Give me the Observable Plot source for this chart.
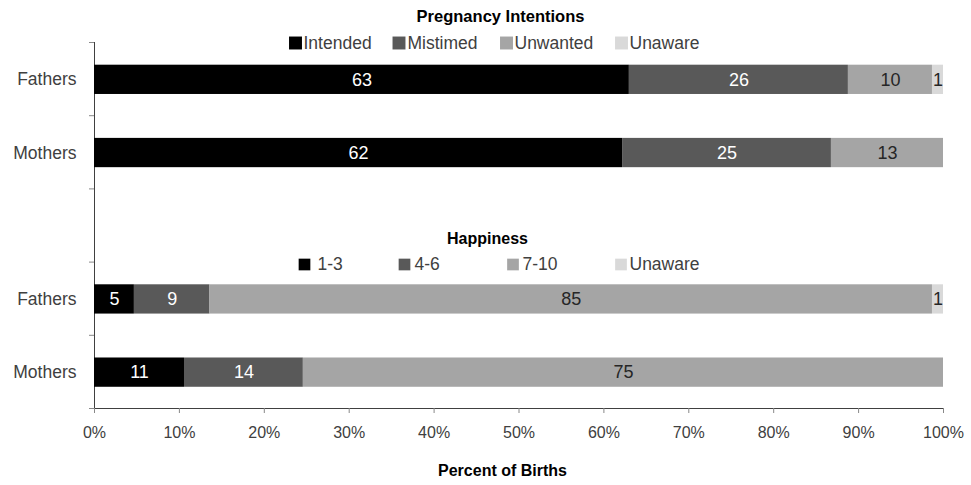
<!DOCTYPE html>
<html><head><meta charset="utf-8">
<script src="https://cdn.jsdelivr.net/npm/d3@7"></script>
<script src="https://cdn.jsdelivr.net/npm/@observablehq/plot@0.6"></script>
<style>
html,body{margin:0;padding:0;background:#fff;}
#chart svg{display:block;}
#chart g[aria-label^="x-axis"] line, #chart g[aria-label^="x-axis"] path,
#chart g[aria-label^="y-axis"] line, #chart g[aria-label^="y-axis"] path{stroke:#888888;}
</style></head><body><div id="chart"></div>
<script>
// ---- data ----
const rowNames = ["Fathers", "Mothers"];
const intentionKeys = ["Intended", "Mistimed", "Unwanted", "Unaware"];
const happinessKeys = ["1-3", "4-6", "7-10", "Unaware"];
const intentionFathers = [63.0, 25.8, 9.9, 1.3];
const intentionMothers = [62.2, 24.6, 13.2, 0];
const happinessFathers = [4.7, 8.9, 85.1, 1.3];
const happinessMothers = [10.6, 14.0, 75.4, 0];
const xTicks = [0, 10, 20, 30, 40, 50, 60, 70, 80, 90, 100];
const intentionTitle = "Pregnancy Intentions";
const happinessTitle = "Happiness";
const xTitle = "Percent of Births";

// ---- styling / layout ----
const fills = ["#000000", "#595959", "#a5a5a5", "#d9d9d9"];
const labelFills = ["#ffffff", "#ffffff", "#262626", "#262626"];
const W = 971, H = 485, mL = 94, mR = 28, mT = 42, mB = 77;
const pxToX = px => (px - mL) / (W - mL - mR) * 100;
const pxToY = py => (py - mT) / ((H - mT - mB) / 5);

const rows = [
  {slot: 0, name: rowNames[0], vals: intentionFathers},
  {slot: 1, name: rowNames[1], vals: intentionMothers},
  {slot: 3, name: rowNames[0], vals: happinessFathers},
  {slot: 4, name: rowNames[1], vals: happinessMothers}
];
const segments = [];
rows.forEach(r => {
  let acc = 0;
  r.vals.forEach((v, k) => {
    if (v > 0) segments.push({slot: r.slot, k, x1: acc, x2: acc + v, v});
    acc += v;
  });
});

// legend layout (pixel positions of swatch centers and label starts)
const legendIntention = intentionKeys.map((key, k) => ({key, k,
  sx: pxToX([295, 398.5, 506, 621][k]), tx: pxToX([303, 407, 514, 629][k]), y: pxToY(42.5)}));
const legendHappiness = happinessKeys.map((key, k) => ({key, k,
  sx: pxToX([304, 404, 512.5, 620.5][k]), tx: pxToX([317, 414, 522, 629][k]), y: pxToY(264)}));

const font = "'Liberation Sans', Arial, sans-serif";

const chart = Plot.plot({
  width: W, height: H,
  marginLeft: mL, marginRight: mR, marginTop: mT, marginBottom: mB,
  style: {fontFamily: font, fontSize: "16px", color: "#404040", background: "#fff", overflow: "visible"},
  color: {type: "identity"},
  x: {domain: [0, 100], ticks: xTicks, tickFormat: d => d + "%", tickSize: 5, tickPadding: 13, line: true, label: null},
  y: {domain: [0, 5], reverse: true, ticks: 5, tickFormat: () => "", tickSize: 5, line: true, label: null},
  marks: [
    Plot.rect(segments, {x1: "x1", x2: "x2", y1: d => d.slot + 0.31, y2: d => d.slot + 0.71, fill: d => fills[d.k]}),
    Plot.text(segments, {x: d => (d.x1 + d.x2) / 2, y: d => d.slot + 0.51, text: d => String(Math.round(d.v)),
      fill: d => labelFills[d.k], fontSize: 18, fontFamily: font}),
    Plot.text(rows, {x: 0, y: d => d.slot + 0.51, text: "name", textAnchor: "end", dx: -18, fill: "#404040", fontSize: 17.5}),
    // legends
    Plot.text([intentionTitle], {x: pxToX(500), y: pxToY(16.5), text: d => d, fontWeight: "bold", fill: "#000", fontSize: 16.5}),
    Plot.dot(legendIntention, {x: "sx", y: "y", symbol: "square", r: 7.3, fill: d => fills[d.k], stroke: null}),
    Plot.text(legendIntention, {x: "tx", y: "y", text: "key", textAnchor: "start", fill: "#404040", fontSize: 17.5}),
    Plot.text([happinessTitle], {x: pxToX(487), y: pxToY(238), text: d => d, fontWeight: "bold", fill: "#000", fontSize: 16}),
    Plot.dot(legendHappiness, {x: "sx", y: "y", symbol: "square", r: 6.6, fill: d => fills[d.k], stroke: null}),
    Plot.text(legendHappiness, {x: "tx", y: "y", text: "key", textAnchor: "start", fill: "#404040", fontSize: 17.5}),
    Plot.text([xTitle], {x: pxToX(502), y: pxToY(470), text: d => d, fontWeight: "bold", fill: "#000", fontSize: 16})
  ]
});
document.getElementById("chart").appendChild(chart);
</script></body></html>
